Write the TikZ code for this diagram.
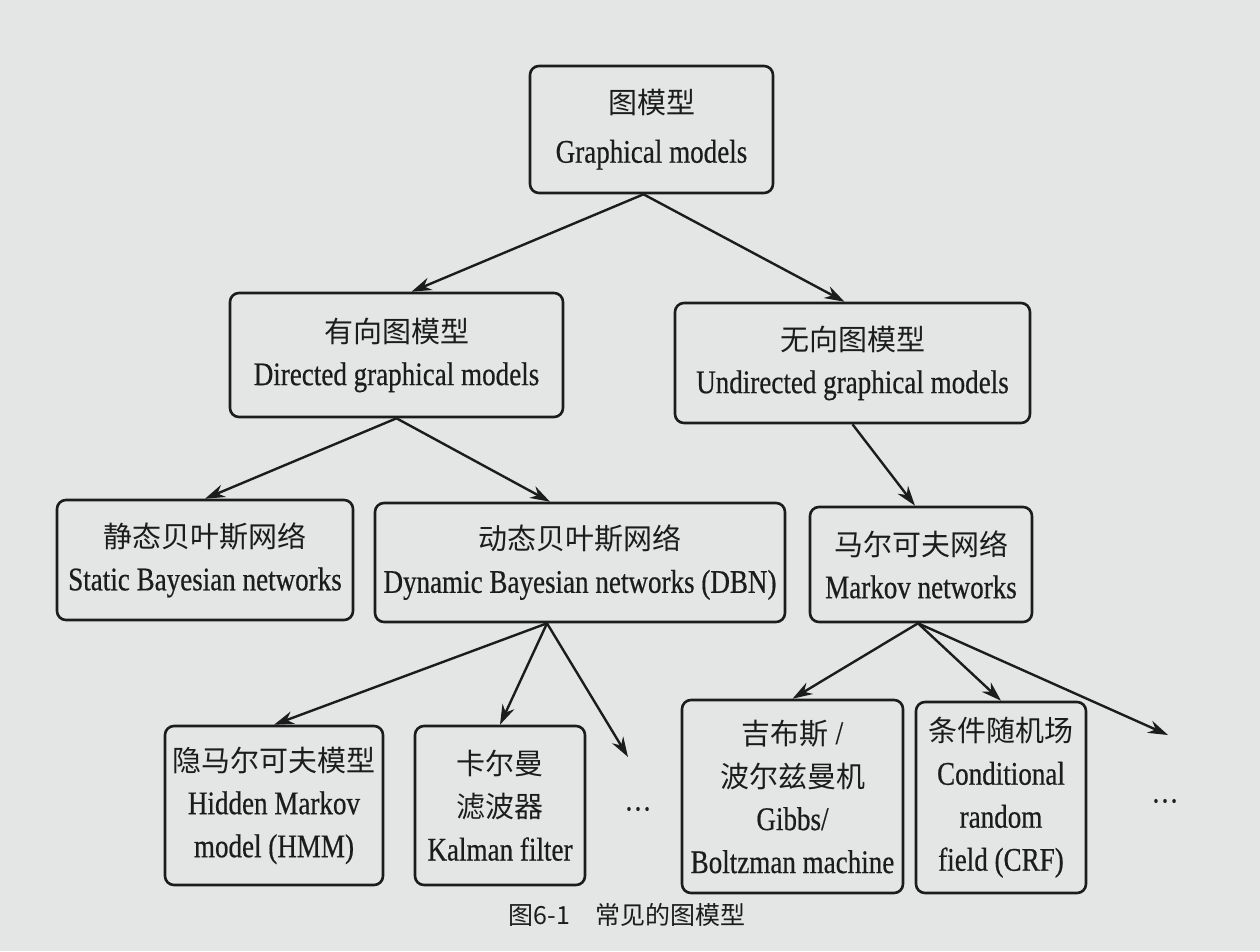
\documentclass[tikz,border=0pt]{standalone}
\usepackage{fontspec}
\setmainfont{Liberation Serif}[FakeStretch=0.82, FakeBold=0.5]
\newfontfamily\cjk{Noto Sans CJK SC}
\usetikzlibrary{arrows.meta}

\definecolor{paper}{RGB}{228,230,230}
\definecolor{ink}{RGB}{28,28,28}
\newcommand{\zh}[1]{{\cjk\fontsize{29}{43}\selectfont #1}}

\tikzset{
  model/.style={draw=ink, line width=2.6pt, rounded corners=9pt, align=center,
    inner sep=0pt, text=ink, font=\fontsize{33}{43}\selectfont},
  link/.style={->, draw=ink, line width=2.4pt},
}

\begin{document}
\begin{tikzpicture}[x=1pt, y=-1pt, >={Stealth[length=20pt,width=13pt]}]
  % Page
  \fill[paper] (0,0) rectangle (1260,951);
  \useasboundingbox (0,0) rectangle (1260,951);

  % Root
  \node[model, minimum width=243pt, minimum height=127pt] (root) at (651.5,129.5)
    {\zh{图模型}\\[6pt] Graphical models};

  % Second level
  \node[model, minimum width=333pt, minimum height=124pt] (dir) at (396.5,355)
    {\zh{有向图模型}\\ Directed graphical models};
  \node[model, minimum width=355pt, minimum height=120pt] (undir) at (852.5,363)
    {\zh{无向图模型}\\ Undirected graphical models};

  % Third level
  \node[model, minimum width=296pt, minimum height=120pt] (static) at (205,560)
    {\zh{静态贝叶斯网络}\\ Static Bayesian networks};
  \node[model, minimum width=410pt, minimum height=119pt] (dbn) at (580,562.5)
    {\zh{动态贝叶斯网络}\\ Dynamic Bayesian networks (DBN)};
  \node[model, minimum width=222pt, minimum height=115pt] (markov) at (921,564.5)
    {\zh{马尔可夫网络}\\ Markov networks};

  % Leaves
  \node[model, minimum width=218pt, minimum height=159pt] (hmm) at (274,805.5)
    {\zh{隐马尔可夫模型}\\ Hidden Markov\\ model (HMM)};
  \node[model, minimum width=170pt, minimum height=159pt] (kalman) at (500,805.5)
    {\zh{卡尔曼}\\ \zh{滤波器}\\ Kalman filter};
  \node[text=ink, font=\fontsize{33}{43}\selectfont] (moreA) at (638,809) {…};
  \node[model, minimum width=221pt, minimum height=193pt] (gibbs) at (792.5,796.5)
    {\zh{吉布斯} /\\ \zh{波尔兹曼机}\\ Gibbs/\\ Boltzman machine};
  \node[model, minimum width=170pt, minimum height=191pt] (crf) at (1001,797.5)
    {\zh{条件随机场}\\ Conditional\\ random\\ field (CRF)};
  \node[text=ink, font=\fontsize{33}{43}\selectfont] (moreB) at (1165,801) {…};

  % Free arrow ends
  \coordinate (endA) at (628,757);
  \coordinate (endB) at (1168,735);

  % Links
  \draw[link] ([xshift=-8pt]root.south) -- ([xshift=15pt]dir.north);
  \draw[link] ([xshift=-8pt]root.south) -- ([xshift=-8pt]undir.north);
  \draw[link] (dir.south) -- (static.north);
  \draw[link] (dir.south) -- ([xshift=-30pt]dbn.north);
  \draw[link] (undir.south) -- ([xshift=-6pt]markov.north);
  \draw[link] ([xshift=-33pt]dbn.south) -- (hmm.north);
  \draw[link] ([xshift=-33pt]dbn.south) -- (kalman.north);
  \draw[link] ([xshift=-33pt]dbn.south) -- (endA);
  \draw[link] ([xshift=-3pt]markov.south) -- (gibbs.north);
  \draw[link] ([xshift=-3pt]markov.south) -- (crf.north);
  \draw[link] ([xshift=-3pt]markov.south) -- (endB);

  % Caption
  \node[text=ink, font=\cjk\fontsize{25}{30}\selectfont] (caption) at (627,915)
    {图6-1\quad 常见的图模型};
\end{tikzpicture}
\end{document}
